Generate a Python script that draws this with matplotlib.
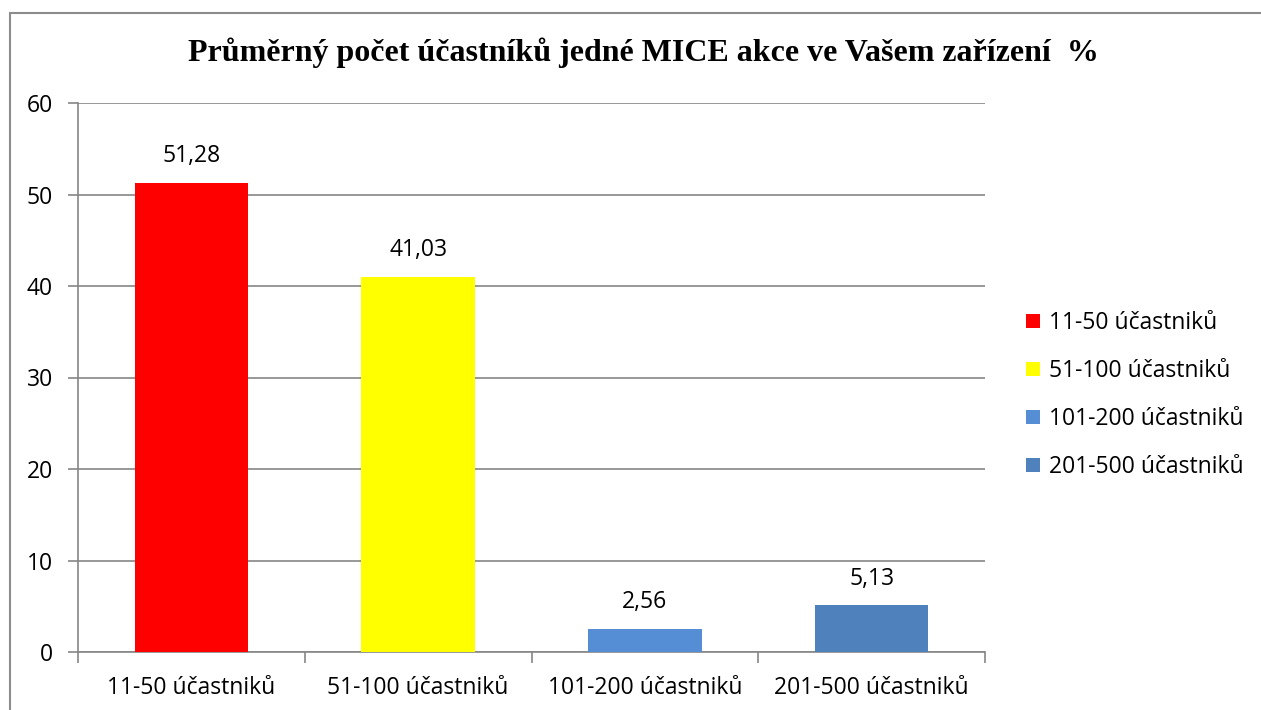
import matplotlib.pyplot as plt
from matplotlib.patches import Rectangle

# data
categories = ['11-50 účastniků', '51-100 účastniků', '101-200 účastniků', '201-500 účastniků']
values = [51.28, 41.03, 2.56, 5.13]
colors = ['#FF0000', '#FFFF00', '#558ED5', '#4F81BD']
yticks = [0, 10, 20, 30, 40, 50, 60]

plt.rcParams['font.family'] = ['Open Sans', 'DejaVu Sans']

fig = plt.figure(figsize=(12.61, 7.10), dpi=100)
W, H = 1261, 710

# outer chart border (runs off the right/bottom edge)
fig.patches.append(Rectangle((10 / W, -0.1), 1.2, (H - 13) / H + 0.1, transform=fig.transFigure,
                             fill=False, edgecolor='#8C8C8C', linewidth=1.5))

ax = fig.add_axes([78 / W, 1 - 652 / H, (985 - 78) / W, (652 - 103) / H])

x = range(len(categories))
bars = ax.bar(x, values, width=0.5, color=colors, label=categories, zorder=3)
for b, v in zip(bars, values):
    ax.text(b.get_x() + b.get_width() / 2, v + 2.9, f'{v:.2f}'.replace('.', ','),
            ha='center', va='center', fontsize=16.5)

ax.set_xlim(-0.5, len(categories) - 0.5)
ax.set_ylim(0, 60)
ax.set_yticks(yticks)
ax.yaxis.grid(True, color='#868686', linewidth=1.2, zorder=0)
ax.set_axisbelow(True)
for s in ['top', 'right']:
    ax.spines[s].set_visible(False)
for s in ['left', 'bottom']:
    ax.spines[s].set_color('#868686')
    ax.spines[s].set_linewidth(1.2)

ax.set_xticks(list(x))
ax.set_xticklabels(categories, fontsize=16.5)
ax.set_xticks([i - 0.5 for i in range(len(categories) + 1)], minor=True)
ax.tick_params(axis='x', which='major', length=0, pad=17)
ax.tick_params(axis='x', which='minor', length=8, color='#868686', width=1.2)
ax.tick_params(axis='y', length=7, color='#868686', width=1.2, labelsize=16.5, pad=11)

fig.suptitle('Průměrný počet účastníků jedné MICE akce ve Vašem zařízení  %',
             x=(190 + 1097) / 2 / W, y=1 - 53 / H, va='center',
             family='Liberation Serif', fontweight='bold', fontsize=23)

leg = fig.legend(handles=bars, labels=categories, loc='center left',
                 bbox_to_anchor=(1026 / W, 1 - 395 / H), frameon=False,
                 fontsize=16.5, handlelength=0.6, handleheight=0.6,
                 handletextpad=0.4, labelspacing=1.05, borderpad=0, borderaxespad=0)

fig.savefig('out.png', dpi=100)
